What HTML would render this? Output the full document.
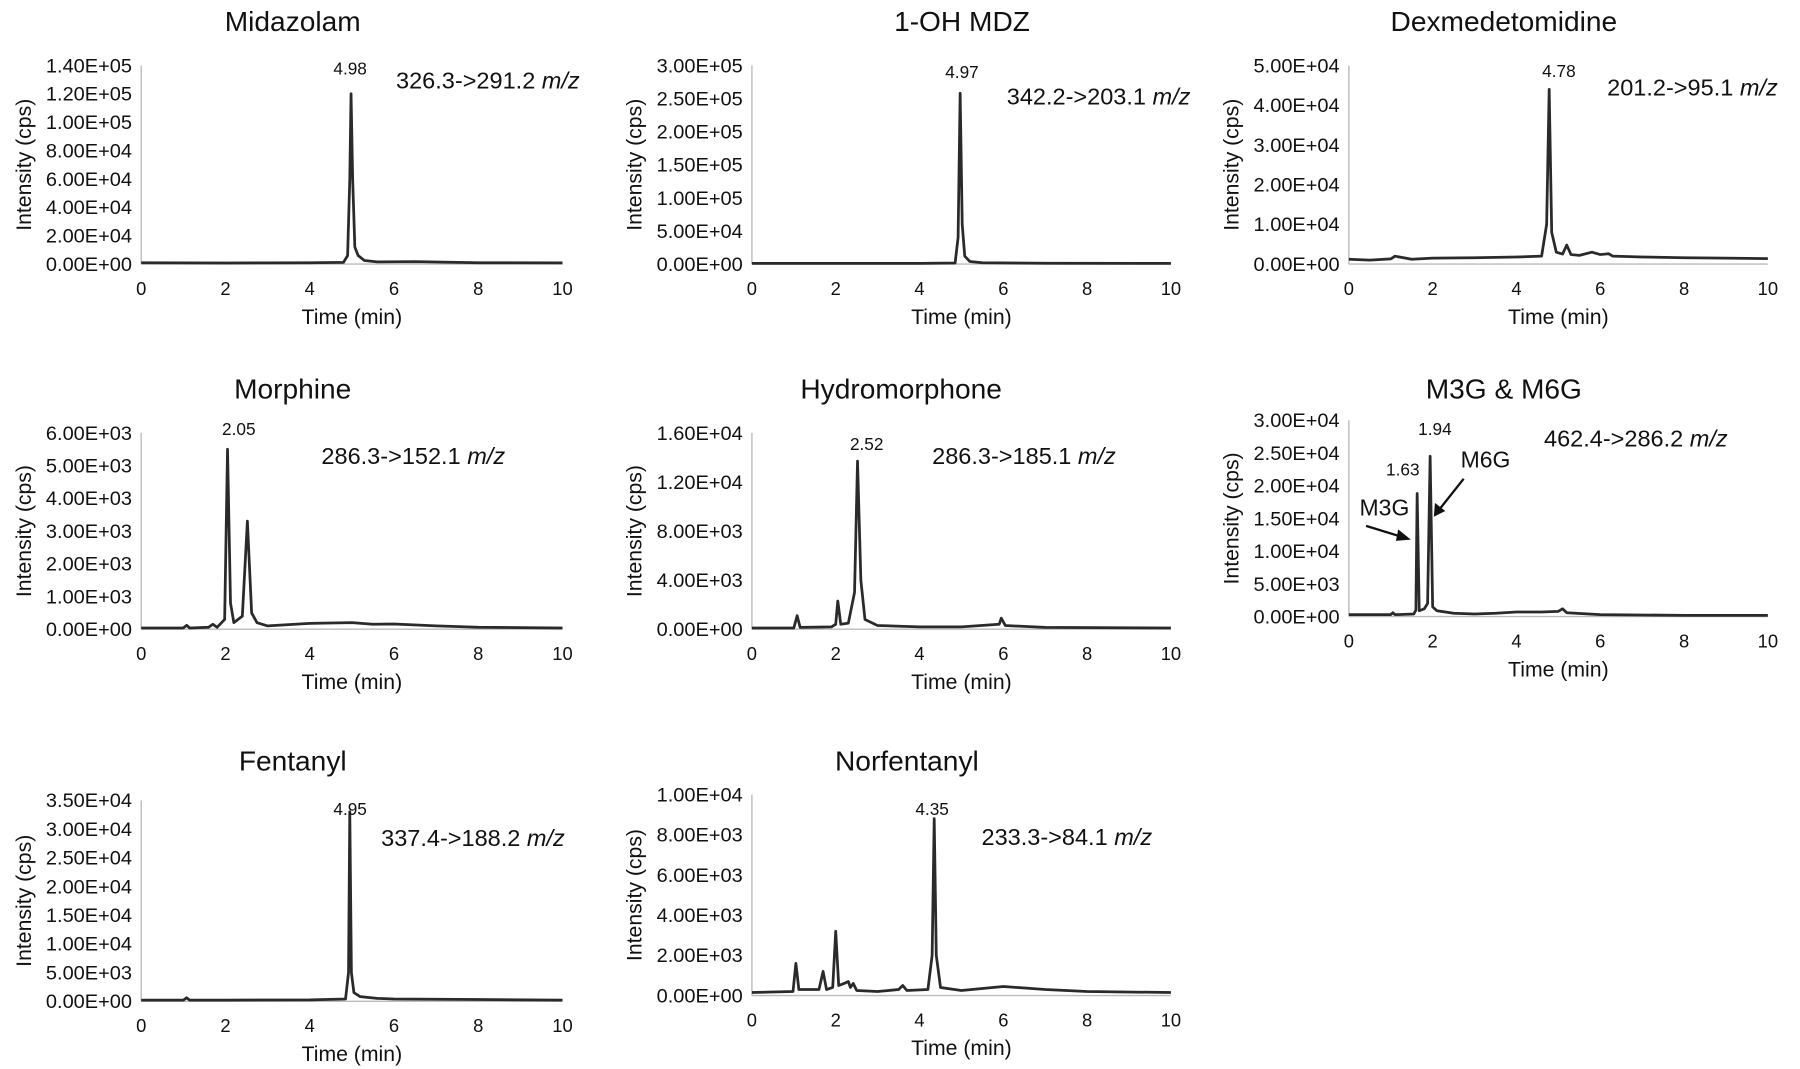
<!DOCTYPE html>
<html><head><meta charset="utf-8"><style>
html,body{margin:0;padding:0;background:#fff;}
svg{display:block;font-family:"Liberation Sans",Arial,sans-serif;}
</style></head><body>
<svg id="fig" width="1800" height="1069" viewBox="0 0 1568 931" preserveAspectRatio="none" xmlns="http://www.w3.org/2000/svg">
<g id="root"></g>
<g>
<text x="1206" y="449" font-size="20" text-anchor="middle" fill="#111">M3G</text>
<text x="1294" y="407" font-size="20" text-anchor="middle" fill="#111">M6G</text>
<line x1="1190" y1="458" x2="1226" y2="469" stroke="#111" stroke-width="2"/>
<polygon points="1229,470 1218,461 1216,471" fill="#111"/>
<line x1="1275" y1="417" x2="1252" y2="446" stroke="#111" stroke-width="2"/>
<polygon points="1249,450 1250,438 1259,445" fill="#111"/>
</g>
</svg>
<script>
// ---- data (time in min, intensity in cps) ----
const xTicks = [0,2,4,6,8,10];
const midT = [0,1,2,3,4,4.8,4.9,4.95,4.98,5.02,5.07,5.15,5.3,5.6,6.5,8,10];
const midV = [1000,900,800,900,1000,1200,6000,60000,120000,60000,12000,6000,2500,1500,1800,1000,900];
const ohT = [0,2,4,4.85,4.92,4.97,5.02,5.08,5.2,5.5,7,10];
const ohV = [1000,1000,1000,1500,40000,258000,60000,12000,4000,2000,1200,1000];
const dexT = [0,0.5,1,1.1,1.5,2,3,4,4.6,4.72,4.78,4.84,4.95,5.1,5.2,5.3,5.5,5.8,6,6.2,6.3,7,8,9,10];
const dexV = [1200,1000,1300,2000,1200,1500,1600,1800,2000,10000,44000,8000,3000,2500,4800,2400,2200,3000,2400,2600,2000,1800,1600,1500,1400];
const morT = [0,1,1.08,1.15,1.6,1.7,1.8,1.98,2.05,2.12,2.2,2.4,2.52,2.62,2.75,3,4,5,5.5,6,7,8,10];
const morV = [40,40,120,40,60,150,60,300,5500,800,200,400,3300,500,200,100,180,200,150,160,100,60,40];
const hydT = [0,1,1.08,1.15,1.9,2.0,2.05,2.12,2.3,2.45,2.52,2.6,2.7,3,4,5,5.9,5.95,6.05,7,10];
const hydV = [100,100,1100,150,200,400,2300,400,500,3000,13700,4000,800,300,200,200,400,900,300,150,100];
const m3gT = [0,1,1.05,1.1,1.55,1.6,1.63,1.68,1.8,1.88,1.94,2.0,2.1,2.5,3,3.5,4,4.6,5,5.1,5.2,6,8,10];
const m3gV = [300,300,600,300,400,1000,18800,900,1200,2000,24500,1500,900,500,400,500,700,700,800,1200,600,300,200,200];
const fenT = [0,1,1.08,1.15,2,4,4.85,4.92,4.95,4.99,5.05,5.2,5.6,6,8,10];
const fenV = [200,200,600,200,200,250,400,5000,33000,5000,1500,800,500,400,300,200];
const norT = [0,0.98,1.05,1.12,1.6,1.7,1.78,1.93,2.0,2.07,2.2,2.3,2.35,2.42,2.5,3,3.5,3.6,3.7,4.2,4.3,4.35,4.4,4.5,5,6,7,8,10];
const norV = [150,200,1600,300,300,1200,300,400,3200,500,600,700,400,600,250,200,300,500,250,300,2000,8800,2000,400,250,450,300,200,150];
// tick labels
const midY = ["0.00E+00","2.00E+04","4.00E+04","6.00E+04","8.00E+04","1.00E+05","1.20E+05","1.40E+05"];
const ohY = ["0.00E+00","5.00E+04","1.00E+05","1.50E+05","2.00E+05","2.50E+05","3.00E+05"];
const dexY = ["0.00E+00","1.00E+04","2.00E+04","3.00E+04","4.00E+04","5.00E+04"];
const morY = ["0.00E+00","1.00E+03","2.00E+03","3.00E+03","4.00E+03","5.00E+03","6.00E+03"];
const hydY = ["0.00E+00","4.00E+03","8.00E+03","1.20E+04","1.60E+04"];
const m3gY = ["0.00E+00","5.00E+03","1.00E+04","1.50E+04","2.00E+04","2.50E+04","3.00E+04"];
const fenY = ["0.00E+00","5.00E+03","1.00E+04","1.50E+04","2.00E+04","2.50E+04","3.00E+04","3.50E+04"];
const norY = ["0.00E+00","2.00E+03","4.00E+03","6.00E+03","8.00E+03","1.00E+04"];

const panels = [
 {id:"midazolam",title:"Midazolam",t:midT,v:midV,yl:midY,ymax:140000,x0:123,x1:490,yt:57,yb:230,tx:255,ty:27,ann:"326.3->291.2",ax:345,ay:77,peak:"4.98",px:305,py:65},
 {id:"oh-mdz",title:"1-OH MDZ",t:ohT,v:ohV,yl:ohY,ymax:300000,x0:655,x1:1020,yt:57,yb:230,tx:838,ty:27,ann:"342.2->203.1",ax:877,ay:91,peak:"4.97",px:838,py:68},
 {id:"dexmedetomidine",title:"Dexmedetomidine",t:dexT,v:dexV,yl:dexY,ymax:50000,x0:1175,x1:1540,yt:57,yb:230,tx:1310,ty:27,ann:"201.2->95.1",ax:1400,ay:83,peak:"4.78",px:1358,py:67},
 {id:"morphine",title:"Morphine",t:morT,v:morV,yl:morY,ymax:6000,x0:123,x1:490,yt:377,yb:548,tx:255,ty:347,ann:"286.3->152.1",ax:280,ay:404,peak:"2.05",px:208,py:379},
 {id:"hydromorphone",title:"Hydromorphone",t:hydT,v:hydV,yl:hydY,ymax:16000,x0:655,x1:1020,yt:377,yb:548,tx:785,ty:347,ann:"286.3->185.1",ax:812,ay:404,peak:"2.52",px:755,py:392},
 {id:"m3g-m6g",title:"M3G & M6G",t:m3gT,v:m3gV,yl:m3gY,ymax:30000,x0:1175,x1:1540,yt:366,yb:537,tx:1310,ty:347,ann:"462.4->286.2",ax:1345,ay:389,peak:"1.94",px:1250,py:379,peak2:"1.63",p2x:1222,p2y:414},
 {id:"fentanyl",title:"Fentanyl",t:fenT,v:fenV,yl:fenY,ymax:35000,x0:123,x1:490,yt:697,yb:872,tx:255,ty:671,ann:"337.4->188.2",ax:332,ay:737,peak:"4.95",px:305,py:710},
 {id:"norfentanyl",title:"Norfentanyl",t:norT,v:norV,yl:norY,ymax:10000,x0:655,x1:1020,yt:692,yb:867,tx:790,ty:671,ann:"233.3->84.1",ax:855,ay:736,peak:"4.35",px:812,py:710}
];
const NS="http://www.w3.org/2000/svg";
const root=document.getElementById('root');
function mk(tag,attrs,parent,txt){const e=document.createElementNS(NS,tag);for(const k in attrs)e.setAttribute(k,attrs[k]);if(txt!==undefined)e.textContent=txt;parent.appendChild(e);return e;}
panels.forEach(p=>{
 const g=mk('g',{},root);
 
 
 const X=t=>p.x0+(t/10)*(p.x1-p.x0);
 const Y=v=>p.yb-(v/p.ymax)*(p.yb-p.yt);
 const title=mk('text',{x:p.tx,y:p.ty,'font-size':24.5,'text-anchor':'middle',fill:'#111'},g,p.title);
 
 
 const ya=mk('line',{x1:p.x0,y1:p.yt,x2:p.x0,y2:p.yb,stroke:'#bbb','stroke-width':1.2},g);
 
 
 const xa=mk('line',{x1:p.x0,y1:p.yb,x2:p.x1,y2:p.yb,stroke:'#bbb','stroke-width':1.2},g);
 
 
 const n=p.yl.length-1;
 p.yl.forEach((lab,i)=>{
  const y=p.yb-(i/n)*(p.yb-p.yt);
  const tl=mk('text',{x:p.x0-8,y:y+6,'font-size':17,'text-anchor':'end',fill:'#111',textLength:75,lengthAdjust:'spacingAndGlyphs'},g,lab);
  
  
 });
 xTicks.forEach(t=>{
  const tl=mk('text',{x:X(t),y:p.yb+27,'font-size':16,'text-anchor':'middle',fill:'#111'},g,String(t));
  
  
 });
 const xt=mk('text',{x:(p.x0+p.x1)/2,y:p.yb+52,'font-size':18.5,'text-anchor':'middle',fill:'#111'},g,'Time (min)');
 
 
 const cy=(p.yt+p.yb)/2;
 const yt=mk('text',{x:0,y:0,'font-size':18.5,'text-anchor':'middle',fill:'#111',transform:`translate(${p.x0-96},${cy}) rotate(-90)`},g,'Intensity (cps)');
 
 
 const d=p.t.map((t,i)=>(i?'L':'M')+X(t).toFixed(1)+','+Y(p.v[i]).toFixed(1)).join(' ');
 const line=mk('path',{d:d,fill:'none',stroke:'#2a2a2a','stroke-width':2.4,'stroke-linejoin':'round'},g);
 
 
 const an=mk('text',{x:p.ax,y:p.ay,'font-size':20.5,fill:'#111'},g);
 
 
 mk('tspan',{},an,p.ann+' ');
 mk('tspan',{'font-style':'italic'},an,'m/z');
 const pk=mk('text',{x:p.px,y:p.py,'font-size':15,'text-anchor':'middle',fill:'#111'},g,p.peak);
 
 
 if(p.peak2){
  const pk2=mk('text',{x:p.p2x,y:p.p2y,'font-size':15,'text-anchor':'middle',fill:'#111'},g,p.peak2);
  
  
 }
});
</script>
</body></html>
